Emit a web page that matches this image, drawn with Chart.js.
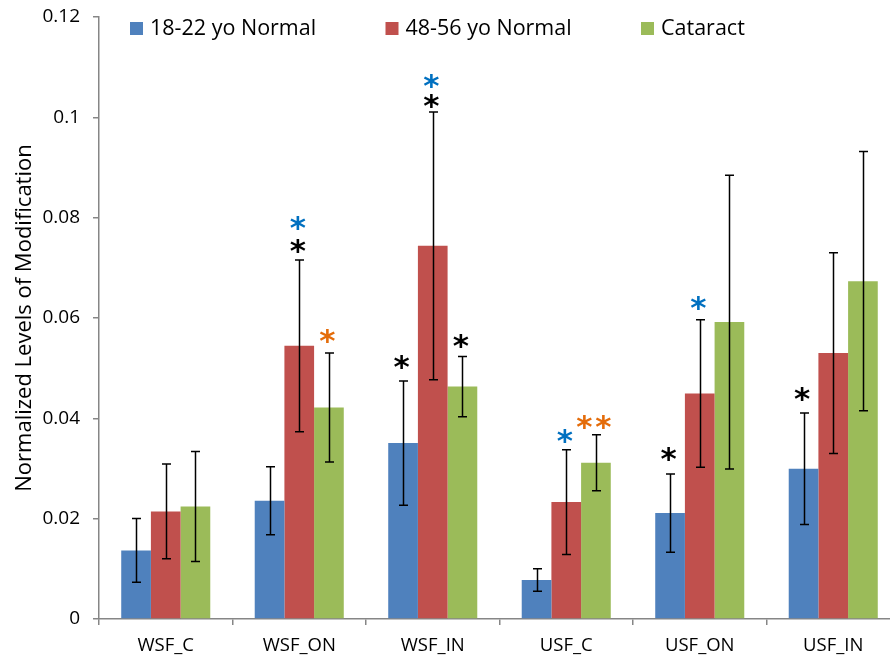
<!DOCTYPE html>
<html>
<head>
<meta charset="utf-8">
<script src="https://cdn.jsdelivr.net/npm/chart.js@4.4.1/dist/chart.umd.min.js"></script>
<style>
  html, body { margin: 0; padding: 0; background: #fff; overflow: hidden; width: 890px; height: 658px; }
  #c { display: block; }
</style>
</head>
<body>
<canvas id="c" width="900" height="658"></canvas>
<script>
// ---------- data ----------
const categories = ['WSF_C', 'WSF_ON', 'WSF_IN', 'USF_C', 'USF_ON', 'USF_IN'];
const seriesLabels = ['18-22 yo Normal', '48-56 yo Normal', 'Cataract'];

const young = [0.01367, 0.02357, 0.03507, 0.00777, 0.02112, 0.02995];
const middle = [0.02144, 0.05445, 0.07438, 0.02331, 0.04495, 0.05300];
const cataract = [0.02244, 0.04216, 0.04634, 0.03114, 0.05918, 0.06734];

const youngErr = [0.00634, 0.00677, 0.01239, 0.00226, 0.00780, 0.01113];
const middleErr = [0.00944, 0.01711, 0.02669, 0.01043, 0.01472, 0.02003];
const cataractErr = [0.01096, 0.01086, 0.00600, 0.00558, 0.02926, 0.02584];

const yTickLabels = ['0', '0.02', '0.04', '0.06', '0.08', '0.1', '0.12'];
const yTitle = 'Normalized Levels of Modification';

// significance marks: category index, series index, group key, y value, text
const markCat = [1, 1, 1, 2, 2, 2, 2, 3, 3, 4, 4, 5];
const markSeries = [1, 1, 2, 0, 1, 1, 2, 1, 2, 0, 1, 0];
const markGroup = ['k', 'b', 'o', 'k', 'k', 'b', 'k', 'b', 'o', 'k', 'b', 'k'];
const markValue = [0.0742, 0.0788, 0.0563, 0.0511, 0.1031, 0.1071, 0.0553, 0.0364, 0.0391, 0.0327, 0.0628, 0.0448];
const markText = ['*', '*', '*', '*', '*', '*', '*', '*', '**', '*', '*', '*'];

// ---------- styles ----------
const seriesColors = ['#4F81BD', '#C0504D', '#9BBB59'];
const markColors = { k: '#000000', b: '#0070C0', o: '#E46C0A' };
const axisColor = '#868686';
const FONT = '"Open Sans", "Liberation Sans", sans-serif';

const errors = [youngErr, middleErr, cataractErr];

const errorBarPlugin = {
  id: 'errorBars',
  afterDatasetsDraw(chart) {
    const ctx = chart.ctx;
    const ys = chart.scales.y;
    ctx.save();
    ctx.strokeStyle = '#000000';
    ctx.lineWidth = 1.5;
    chart.data.datasets.forEach((ds, i) => {
      const meta = chart.getDatasetMeta(i);
      meta.data.forEach((bar, j) => {
        const v = ds.data[j], e = errors[i][j];
        const x = Math.round(bar.x) + 0.5;
        const yt = ys.getPixelForValue(v + e);
        const yb = ys.getPixelForValue(v - e);
        ctx.beginPath();
        ctx.moveTo(x, yt); ctx.lineTo(x, yb);
        ctx.moveTo(x - 4.5, yt); ctx.lineTo(x + 4.5, yt);
        ctx.moveTo(x - 4.5, yb); ctx.lineTo(x + 4.5, yb);
        ctx.stroke();
      });
    });
    ctx.restore();
  }
};

const marksPlugin = {
  id: 'marks',
  afterDatasetsDraw(chart) {
    const ctx = chart.ctx;
    const ys = chart.scales.y;
    ctx.save();
    ctx.font = 'bold 31px "DejaVu Sans", sans-serif';
    ctx.textAlign = 'center';
    ctx.textBaseline = 'alphabetic';
    const m = ctx.measureText('*');
    const mid = (m.actualBoundingBoxDescent - m.actualBoundingBoxAscent) / 2;
    for (let k = 0; k < markCat.length; k++) {
      const bar = chart.getDatasetMeta(markSeries[k]).data[markCat[k]];
      const cy = ys.getPixelForValue(markValue[k]);
      const txt = markText[k];
      const pitch = 19;
      const cx0 = bar.x - 1.5 - (txt.length - 1) * pitch / 2 - (txt.length > 1 ? 0.5 : 0);
      ctx.fillStyle = markColors[markGroup[k]];
      for (let c = 0; c < txt.length; c++) {
        ctx.fillText(txt[c], cx0 + c * pitch, cy - mid);
      }
    }
    ctx.restore();
  }
};

const legendPlugin = {
  id: 'customLegend',
  afterDraw(chart) {
    const ctx = chart.ctx;
    ctx.save();
    ctx.font = '21.5px ' + FONT;
    ctx.textBaseline = 'middle';
    ctx.textAlign = 'left';
    chart.data.datasets.forEach((ds, i) => {
      const bx = 130 + i * 255.5;
      ctx.fillStyle = ds.backgroundColor;
      ctx.fillRect(bx, 22, 13, 13);
      ctx.fillStyle = '#000';
      ctx.fillText(ds.label, bx + 20, 29);
    });
    ctx.restore();
  }
};

new Chart(document.getElementById('c'), {
  type: 'bar',
  data: {
    labels: categories,
    datasets: [
      { label: seriesLabels[0], data: young, backgroundColor: seriesColors[0] },
      { label: seriesLabels[1], data: middle, backgroundColor: seriesColors[1] },
      { label: seriesLabels[2], data: cataract, backgroundColor: seriesColors[2] }
    ]
  },
  options: {
    responsive: false,
    animation: false,
    devicePixelRatio: 1,
    layout: { padding: { top: 17, left: 0, right: 0, bottom: 0 } },
    datasets: { bar: { barPercentage: 1.0, categoryPercentage: 0.667, borderWidth: 0 } },
    plugins: { legend: { display: false }, tooltip: { enabled: false } },
    scales: {
      x: {
        type: 'category',
        offset: true,
        grid: { offset: true, drawOnChartArea: false, drawTicks: true, tickLength: 6, color: axisColor, lineWidth: 1.5 },
        border: { color: axisColor, width: 1.5 },
        ticks: { color: '#000', font: { family: FONT, size: 18.5 }, padding: 10, maxRotation: 0 },
        afterFit(s) { s.height = 39; }
      },
      y: {
        min: 0, max: 0.12,
        ticks: {
          stepSize: 0.02,
          color: '#000',
          font: { family: FONT, size: 19 },
          padding: 13,
          callback: (v, i) => yTickLabels[i]
        },
        grid: { drawOnChartArea: false, drawTicks: true, tickLength: 6, color: axisColor, lineWidth: 1.5 },
        border: { color: axisColor, width: 1.5 },
        title: { display: true, text: yTitle, color: '#000', font: { family: FONT, size: 22 }, padding: { top: 12, bottom: 0 } },
        afterFit(s) { s.width = 99; s.paddingTop = 0; s.paddingBottom = 0; }
      }
    }
  },
  plugins: [errorBarPlugin, marksPlugin, legendPlugin]
});
</script>
</body>
</html>
